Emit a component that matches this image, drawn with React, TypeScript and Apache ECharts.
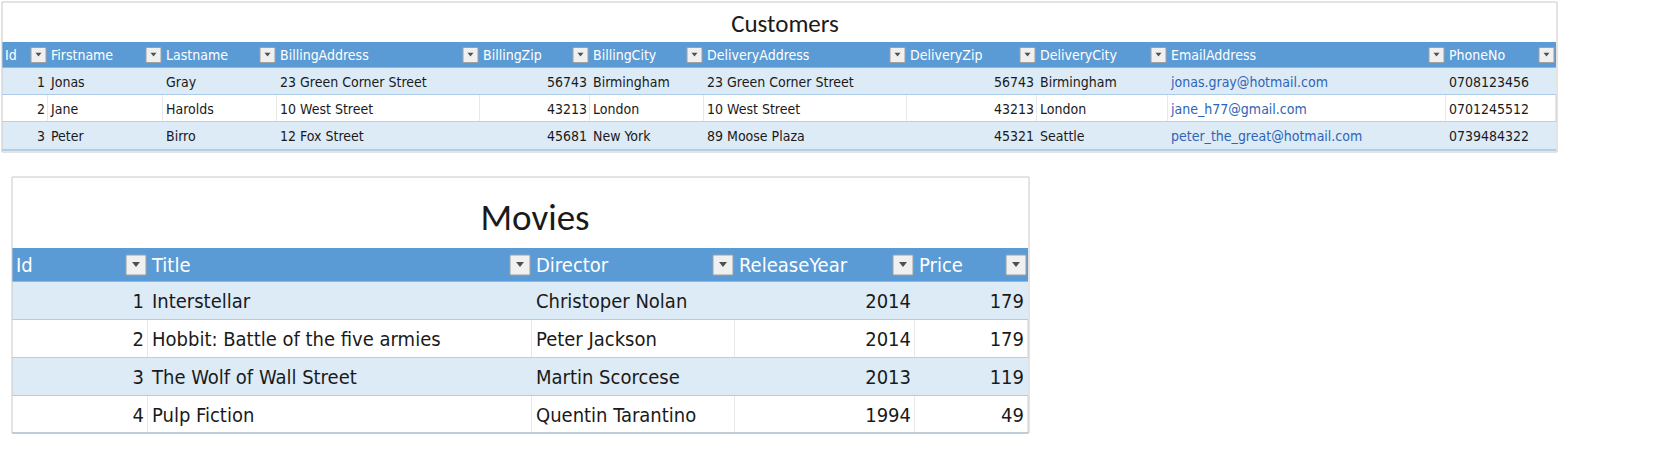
import { useEffect, useRef } from "react";
import * as echarts from "echarts";

// ---- data ----
const customerHeaders = ["Id", "Firstname", "Lastname", "BillingAddress", "BillingZip", "BillingCity", "DeliveryAddress", "DeliveryZip", "DeliveryCity", "EmailAddress", "PhoneNo"];
const customerRows = [
  ["1", "Jonas", "Gray", "23 Green Corner Street", "56743", "Birmingham", "23 Green Corner Street", "56743", "Birmingham", "jonas.gray@hotmail.com", "0708123456"],
  ["2", "Jane", "Harolds", "10 West Street", "43213", "London", "10 West Street", "43213", "London", "jane_h77@gmail.com", "0701245512"],
  ["3", "Peter", "Birro", "12 Fox Street", "45681", "New York", "89 Moose Plaza", "45321", "Seattle", "peter_the_great@hotmail.com", "0739484322"],
];
const customerNumeric = [true, false, false, false, true, false, false, true, false, false, false];

const movieHeaders = ["Id", "Title", "Director", "ReleaseYear", "Price"];
const movieRows = [
  ["1", "Interstellar", "Christoper Nolan", "2014", "179"],
  ["2", "Hobbit: Battle of the five armies", "Peter Jackson", "2014", "179"],
  ["3", "The Wolf of Wall Street", "Martin Scorcese", "2013", "119"],
  ["4", "Pulp Fiction", "Quentin Tarantino", "1994", "49"],
];
const movieNumeric = [true, false, false, true, true];

// ---- layout ----
const W = 1677;
const H = 468;
const custCols = [2, 48, 163, 277, 480, 590, 704, 907, 1037, 1168, 1446, 1556];
const custRowsY = [42, 68, 95, 122, 150];
const movCols = [12, 148, 532, 735, 915, 1028];
const movRowsY = [248, 282, 320, 358, 396, 433];

type Cell = {
  x0: number; y0: number; x1: number; y1: number;
  text: string; kind: "head" | "odd" | "even"; right: boolean;
  size: number; color: string; dropdown: boolean;
};

function buildCells(headers: string[], rows: string[][], numeric: boolean[], cols: number[], ys: number[], size: number, emailCol: number): Cell[] {
  const cells: Cell[] = [];
  headers.forEach((h, c) => {
    cells.push({ x0: cols[c], y0: ys[0], x1: cols[c + 1], y1: ys[1], text: h, kind: "head", right: false, size, color: "#ffffff", dropdown: true });
  });
  rows.forEach((row, r) => {
    row.forEach((v, c) => {
      cells.push({
        x0: cols[c], y0: ys[r + 1], x1: cols[c + 1], y1: ys[r + 2], text: v,
        kind: r % 2 === 0 ? "odd" : "even", right: numeric[c], size,
        color: c === emailCol ? "#2e64b8" : "#1a1a1a", dropdown: false,
      });
    });
  });
  return cells;
}

const cells: Cell[] = [
  ...buildCells(customerHeaders, customerRows, customerNumeric, custCols, custRowsY, 14, 9),
  ...buildCells(movieHeaders, movieRows, movieNumeric, movCols, movRowsY, 20, -1),
];

const FONT = "'Liberation Sans Narrow', 'DejaVu Sans Condensed', sans-serif";

export default function App() {
  const ref = useRef<HTMLDivElement | null>(null);

  useEffect(() => {
    document.body.style.margin = "0";
    if (!ref.current) return;
    const chart = echarts.init(ref.current, null, { renderer: "svg" });

    chart.setOption({
      animation: false,
      backgroundColor: "#ffffff",
      grid: { left: 0, right: 0, top: 0, bottom: 0 },
      xAxis: { type: "value", min: 0, max: W, show: false },
      yAxis: { type: "value", min: 0, max: H, inverse: true, show: false },
      title: [
        { text: "Customers", left: 780, top: 6, textAlign: "center", textStyle: { fontFamily: "Calibri, 'Open Sans', sans-serif", fontWeight: "normal", fontSize: 25, color: "#1a1a1a" } },
        { text: "Movies", left: 530, top: 194, textAlign: "center", textStyle: { fontFamily: "Calibri, 'Open Sans', sans-serif", fontWeight: "normal", fontSize: 37, color: "#1a1a1a" } },
      ],
      graphic: [
        { type: "rect", shape: { x: 2, y: 2, width: 1555, height: 150 }, style: { fill: "none", stroke: "#c8c8c8", lineWidth: 1 }, z: 10 },
        { type: "rect", shape: { x: 12, y: 177, width: 1017, height: 256 }, style: { fill: "none", stroke: "#c8c8c8", lineWidth: 1 }, z: 10 },
      ],
      series: [
        {
          type: "custom",
          coordinateSystem: "cartesian2d",
          data: cells.map((c, i) => [c.x0, c.y0, c.x1, c.y1, i]),
          renderItem: (_params: any, api: any) => {
            const cell = cells[api.value(4)];
            const p0 = api.coord([api.value(0), api.value(1)]);
            const p1 = api.coord([api.value(2), api.value(3)]);
            const w = p1[0] - p0[0];
            const h = p1[1] - p0[1];
            const fill = cell.kind === "head" ? "#5b9bd5" : cell.kind === "odd" ? "#ddebf7" : "#ffffff";
            const children: any[] = [
              { type: "rect", shape: { x: p0[0], y: p0[1], width: w, height: h }, style: { fill } },
              { type: "line", shape: { x1: p0[0], y1: p1[1], x2: p1[0], y2: p1[1] }, style: { stroke: "#9bc2e6", lineWidth: 1.5 } },
            ];
            if (cell.kind === "even") {
              children.push({ type: "line", shape: { x1: p1[0], y1: p0[1], x2: p1[0], y2: p1[1] }, style: { stroke: "#d0d0d0", lineWidth: 1 } });
            }
            const pad = cell.size > 16 ? 4 : 3;
            const dd = cell.size > 16 ? 20 : 15;
            children.push({
              type: "text",
              style: {
                text: cell.text,
                x: cell.right ? p1[0] - pad : p0[0] + pad,
                y: p0[1] + h / 2,
                align: cell.right ? "right" : "left",
                verticalAlign: "middle",
                fontFamily: FONT,
                fontSize: cell.size,
                fill: cell.color,
              },
            });
            if (cell.dropdown) {
              const bx = p1[0] - dd - 2;
              const by = p0[1] + (h - dd) / 2;
              children.push(
                { type: "rect", shape: { x: bx, y: by, width: dd, height: dd }, style: { fill: "#f0f0f0", stroke: "#a0a0a0", lineWidth: 1 } },
                { type: "polygon", shape: { points: [[bx + dd * 0.3, by + dd * 0.35], [bx + dd * 0.7, by + dd * 0.35], [bx + dd * 0.5, by + dd * 0.6]] }, style: { fill: "#505050" } },
              );
            }
            return { type: "group", children };
          },
        },
      ],
    });

    return () => chart.dispose();
  }, []);

  return <div ref={ref} style={{ width: W, height: H }} />;
}
